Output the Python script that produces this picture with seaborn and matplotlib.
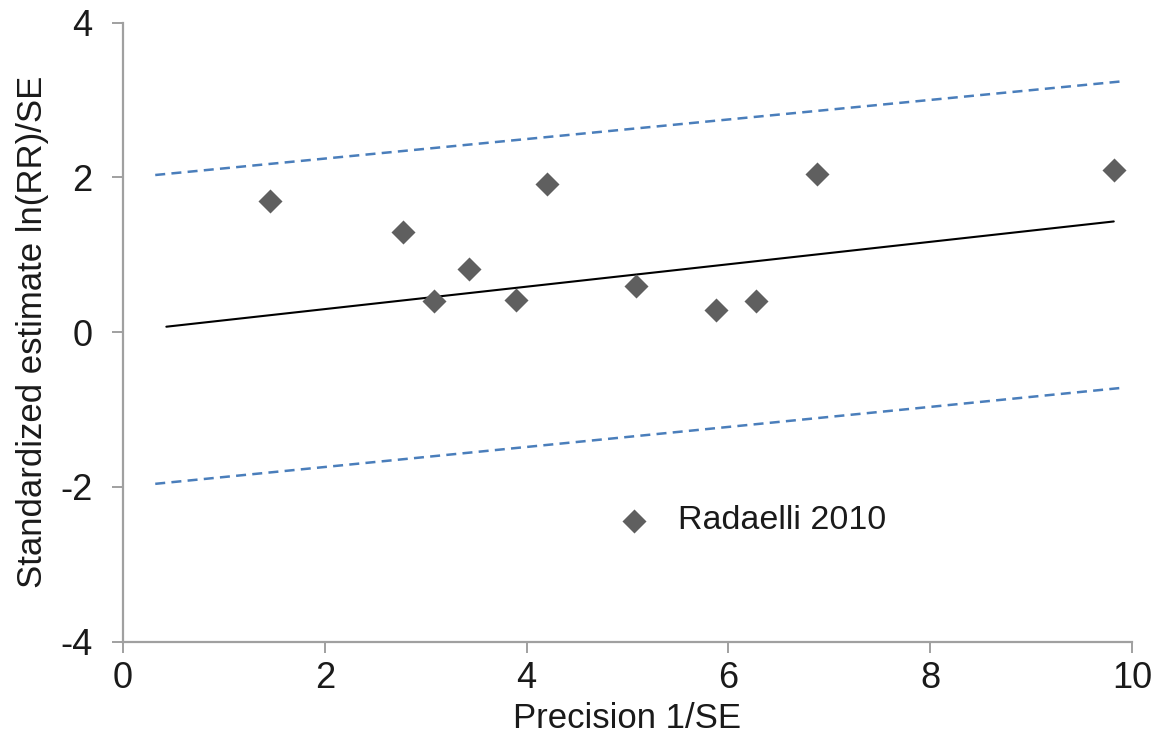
import matplotlib
matplotlib.use("Agg")
import matplotlib.pyplot as plt
import seaborn as sns
import pandas as pd

# dados (precisão x estimativa padronizada)
precisao = [1.46, 2.78, 3.08, 3.43, 3.90, 4.20, 5.08, 5.88, 6.27, 6.88, 9.82]
estimativa = [1.70, 1.29, 0.40, 0.81, 0.42, 1.91, 0.60, 0.28, 0.40, 2.04, 2.10]

# reta de regressão e limites de confiança (extremos)
reg_x = [0.43, 9.82]
reg_y = [0.07, 1.43]
lim_x = [0.32, 9.90]
lim_sup = [2.03, 3.24]
lim_inf = [-1.96, -0.72]

xticks = [0, 2, 4, 6, 8, 10]
yticks = [-4, -2, 0, 2, 4]

sns.set_style("white")
plt.rcParams['font.family'] = ['Liberation Sans', 'DejaVu Sans']
plt.rcParams['text.color'] = '#1a1a1a'
plt.rcParams['axes.labelcolor'] = '#1a1a1a'

fig = plt.figure(figsize=(11.6, 7.51), dpi=100)
ax = fig.add_axes([0.106, 0.1455, 0.8698, 0.8245])

pontos = pd.DataFrame({'x': precisao, 'y': estimativa})
sns.scatterplot(data=pontos, x='x', y='y', marker='D', s=150, color='#5f5f5f',
                linewidth=0, label='Radaelli 2010', ax=ax, zorder=3)

sns.lineplot(x=reg_x, y=reg_y, color='black', linewidth=1.5, ax=ax, legend=False)
sns.lineplot(x=lim_x, y=lim_sup, color='#4a7ebb', linewidth=1.8, ax=ax, legend=False,
             linestyle=(0, (4, 2.5)))
sns.lineplot(x=lim_x, y=lim_inf, color='#4a7ebb', linewidth=1.8, ax=ax, legend=False,
             linestyle=(0, (4, 2.5)))

ax.set_xlim(0, 10)
ax.set_ylim(-4, 4)
ax.set_xticks(xticks)
ax.set_yticks(yticks)
ax.set_xticklabels([str(t) for t in xticks])
ax.set_yticklabels([str(t) for t in yticks])

for lado in ['top', 'right']:
    ax.spines[lado].set_visible(False)
for lado in ['left', 'bottom']:
    ax.spines[lado].set_color('#a0a0a0')
    ax.spines[lado].set_linewidth(1.6)

ax.tick_params(axis='both', direction='out', length=8, width=1.4, color='#a0a0a0',
               labelsize=26, labelcolor='#1a1a1a', bottom=True, left=True)
ax.tick_params(axis='y', pad=14)
ax.tick_params(axis='x', pad=6)

ax.set_xlabel('Precision 1/SE', fontsize=25, labelpad=4)
ax.set_ylabel('Standardized estimate ln(RR)/SE', fontsize=25, labelpad=8)

ax.legend(loc='center left', bbox_to_anchor=(0.473, 0.195), frameon=False,
          fontsize=24.5, handletextpad=0.3, borderpad=0, borderaxespad=0)

fig.savefig('out.png', dpi=100)
